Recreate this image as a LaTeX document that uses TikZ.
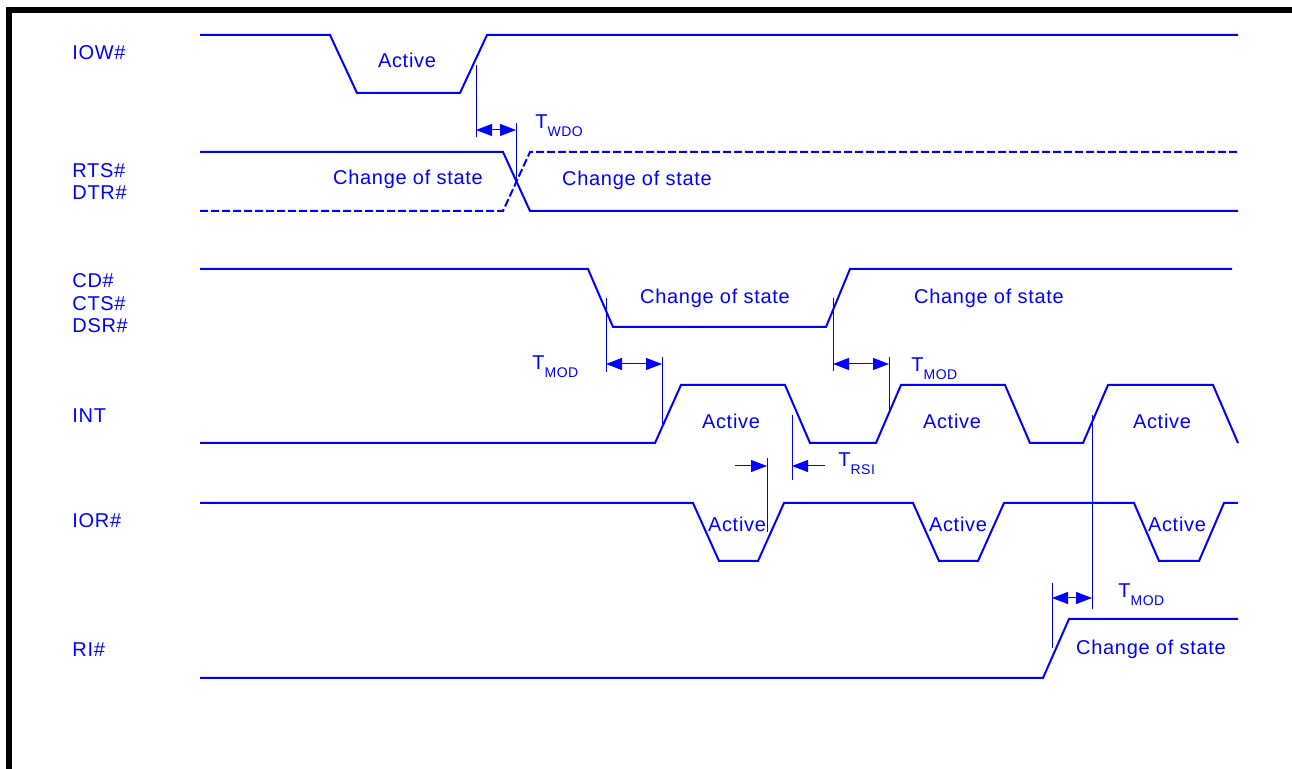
\documentclass[tikz,border=0pt]{standalone}
\usepackage{fontspec}
\setmainfont{Liberation Sans}[LetterSpace=3.5]
\usetikzlibrary{arrows.meta}
\newcommand\tsub[1]{T\raisebox{-3.75pt}{\fontsize{7}{8}\selectfont #1}}

\begin{document}
\begin{tikzpicture}[x=0.5pt, y=-0.5pt,
	>={Triangle[length=8pt,width=6pt]},
	wave/.style ={blue, line width=1pt},
	dashwave/.style ={wave, dash pattern=on 4pt off 1.5pt},
	guide/.style ={blue, line width=0.5pt},
	sig/.style ={anchor=base west, inner sep=0pt, text=blue,
		font=\fontsize{10}{12}\selectfont},
	txt/.style ={sig, anchor=base}]
	\useasboundingbox (0,0) rectangle (1292,769);
	\draw[line width=3pt] (9,780) -- (9,10) -- (1300,10);
	% signal names
	\node[sig] (iow) at (72,60) {IOW\#};
	\node[sig] (rts) at (72,178) {RTS\#};
	\node[sig] (dtr) at (72,200) {DTR\#};
	\node[sig] (cd) at (72,288) {CD\#};
	\node[sig] (cts) at (72,311) {CTS\#};
	\node[sig] (dsr) at (72,333) {DSR\#};
	\node[sig] (int) at (72,423) {INT};
	\node[sig] (ior) at (72,528) {IOR\#};
	\node[sig] (ri) at (72,657) {RI\#};
	% waveforms
	\draw[wave] (200,35) -- (330,35) -- (357,93) -- (460,93) -- (487,35) -- (1238,35);
	\draw[wave] (200,152) -- (503,152) -- (530,211) -- (1238,211);
	\draw[dashwave] (200,211) -- (503,211) -- (530,152) -- (1238,152);
	\draw[wave] (200,269) -- (588,269) -- (613,327) -- (826,327) -- (850,269) -- (1232,269);
	\draw[wave] (200,443) -- (655,443) -- (681,385) -- (785,385) -- (810,443) -- (876,443)
		-- (901,385) -- (1005,385) -- (1030,443) -- (1083,443) -- (1108,385) -- (1213,385) -- (1238,443);
	\draw[wave] (200,503) -- (693,503) -- (719,561) -- (758,561) -- (784,503) -- (913,503)
		-- (939,561) -- (978,561) -- (1004,503) -- (1134,503) -- (1159,561) -- (1199,561)
		-- (1224,503) -- (1238,503);
	\draw[wave] (200,678) -- (1043,678) -- (1069,619) -- (1238,619);
	% state texts
	\node[txt] (iowact) at (407,68) {Active};
	\node[txt] (rtsold) at (408,185) {Change of state};
	\node[txt] (rtsnew) at (637,186) {Change of state};
	\node[txt] (cdlow) at (715,304) {Change of state};
	\node[txt] (cdhigh) at (989,304) {Change of state};
	\node[txt] (intact1) at (731,429) {Active};
	\node[txt] (intact2) at (952,429) {Active};
	\node[txt] (intact3) at (1162,429) {Active};
	\node[txt] (ioract1) at (737,532) {Active};
	\node[txt] (ioract2) at (958,532) {Active};
	\node[txt] (ioract3) at (1177,532) {Active};
	\node[txt] (richg) at (1151,655) {Change of state};
	% timing marks
	\coordinate (wdo1) at (476,130);
	\coordinate (wdo2) at (516,130);
	\draw[guide] (wdo1) ++(0,-65) -- ++(0,72);
	\draw[guide] (wdo2) ++(0,-7) -- ++(0,58);
	\draw[guide,<->] (wdo1) -- (wdo2);
	\node[sig] (twdo) at (535,129) {\tsub{WDO}};
	\coordinate (mod1) at (606,364);
	\coordinate (mod2) at (662,364);
	\draw[guide] (mod1) ++(0,-66) -- ++(0,74);
	\draw[guide] (mod2) ++(0,-7) -- ++(0,67);
	\draw[guide,<->] (mod1) -- (mod2);
	\node[sig] (tmod1) at (532,370) {\tsub{MOD}};
	\coordinate (mod3) at (833,364);
	\coordinate (mod4) at (889,364);
	\draw[guide] (mod3) ++(0,-66) -- ++(0,73);
	\draw[guide] (mod4) ++(0,-7) -- ++(0,56);
	\draw[guide,<->] (mod3) -- (mod4);
	\node[sig] (tmod2) at (911,372) {\tsub{MOD}};
	\coordinate (rsi0) at (735,466);
	\coordinate (rsi1) at (767,466);
	\coordinate (rsi2) at (792,466);
	\coordinate (rsi3) at (825,466);
	\draw[guide] (rsi1) ++(0,-8) -- ++(0,74);
	\draw[guide] (rsi2) ++(0,-51) -- ++(0,65);
	\draw[guide,->] (rsi0) -- (rsi1);
	\draw[guide,->] (rsi3) -- (rsi2);
	\node[sig] (trsi) at (838,467) {\tsub{RSI}};
	\coordinate (mod5) at (1052,598);
	\coordinate (mod6) at (1092,598);
	\draw[guide] (mod5) ++(0,-15) -- ++(0,65);
	\draw[guide] (mod6) ++(0,-183) -- ++(0,194);
	\draw[guide,<->] (mod5) -- (mod6);
	\node[sig] (tmod3) at (1118,598) {\tsub{MOD}};
\end{tikzpicture}
\end{document}
